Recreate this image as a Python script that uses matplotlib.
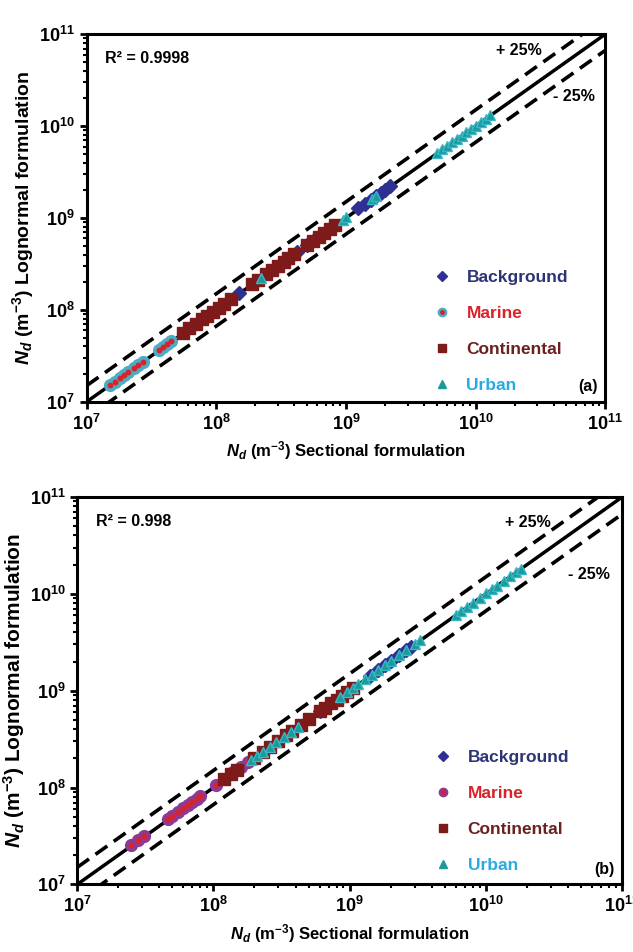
import matplotlib
matplotlib.use("Agg")
import matplotlib.pyplot as plt
from matplotlib.lines import Line2D
from matplotlib.ticker import LogLocator, LogFormatterMathtext, NullFormatter

plt.rcParams["font.family"] = ["Liberation Sans", "DejaVu Sans"]
plt.rcParams["font.weight"] = "bold"
plt.rcParams["mathtext.fontset"] = "custom"
plt.rcParams["mathtext.rm"] = "Liberation Sans:bold"
plt.rcParams["mathtext.bf"] = "Liberation Sans:bold"
plt.rcParams["mathtext.it"] = "Liberation Sans:bold:italic"

# ---- panel (a) data: sectional (x) vs lognormal (y) ----
a_bg_x = [1.5e8, 4.2e8, 5.0e8, 5.8e8, 6.5e8, 1.25e9, 1.4e9, 1.55e9, 1.7e9, 1.85e9, 2.0e9, 2.2e9]
a_bg_y = [1.52e8, 4.25e8, 5.05e8, 5.85e8, 6.6e8, 1.27e9, 1.42e9, 1.57e9, 1.72e9, 1.88e9, 2.02e9, 2.22e9]
a_mar_x = [1.5e7, 1.65e7, 1.8e7, 1.95e7, 2.1e7, 2.3e7, 2.5e7, 2.7e7, 3.6e7, 3.9e7, 4.2e7, 4.5e7]
a_mar_y = [1.52e7, 1.66e7, 1.82e7, 1.97e7, 2.12e7, 2.33e7, 2.52e7, 2.73e7, 3.65e7, 3.95e7, 4.25e7, 4.55e7]
a_con_x = [5.5e7, 6.2e7, 7.0e7, 7.8e7, 8.5e7, 9.5e7, 1.05e8, 1.15e8, 1.3e8, 1.9e8, 2.1e8, 2.4e8,
           2.7e8, 3.0e8, 3.3e8, 3.6e8, 4.0e8, 5.0e8, 5.6e8, 6.2e8, 6.8e8, 7.5e8, 8.3e8]
a_con_y = [5.6e7, 6.3e7, 7.1e7, 7.9e7, 8.6e7, 9.6e7, 1.06e8, 1.17e8, 1.32e8, 1.92e8, 2.13e8, 2.43e8,
           2.73e8, 3.04e8, 3.34e8, 3.65e8, 4.05e8, 5.05e8, 5.67e8, 6.27e8, 6.9e8, 7.6e8, 8.4e8]
a_urb_x = [2.2e8, 9.5e8, 1.0e9, 1.6e9, 1.7e9, 5.0e9, 5.5e9, 6.0e9, 6.6e9, 7.2e9, 7.8e9, 8.5e9,
           9.2e9, 1.0e10, 1.1e10, 1.2e10, 1.3e10]
a_urb_y = [2.25e8, 9.6e8, 1.02e9, 1.63e9, 1.73e9, 5.1e9, 5.6e9, 6.1e9, 6.7e9, 7.3e9, 7.9e9, 8.6e9,
           9.3e9, 1.01e10, 1.11e10, 1.21e10, 1.31e10]

# ---- panel (b) data ----
b_bg_x = [6.0e8, 1.4e9, 1.6e9, 1.8e9, 2.0e9, 2.3e9, 2.6e9, 2.8e9]
b_bg_y = [6.1e8, 1.43e9, 1.63e9, 1.83e9, 2.03e9, 2.33e9, 2.63e9, 2.84e9]
b_mar_x = [2.5e7, 2.8e7, 3.1e7, 4.6e7, 5.0e7, 5.5e7, 6.0e7, 6.5e7, 7.0e7, 7.6e7, 8.0e7,
           1.05e8, 1.4e8, 1.6e8, 1.8e8]
b_mar_y = [2.55e7, 2.85e7, 3.15e7, 4.7e7, 5.1e7, 5.6e7, 6.1e7, 6.6e7, 7.1e7, 7.7e7, 8.1e7,
           1.07e8, 1.43e8, 1.63e8, 1.83e8]
b_con_x = [1.2e8, 1.35e8, 1.5e8, 2.0e8, 2.3e8, 2.6e8, 3.0e8, 3.4e8, 3.8e8, 4.4e8, 5.0e8,
           6.0e8, 6.6e8, 7.3e8, 8.0e8, 8.8e8, 9.6e8, 1.05e9]
b_con_y = [1.22e8, 1.37e8, 1.52e8, 2.03e8, 2.34e8, 2.64e8, 3.05e8, 3.45e8, 3.86e8, 4.47e8, 5.07e8,
           6.1e8, 6.7e8, 7.4e8, 8.1e8, 8.9e8, 9.7e8, 1.06e9]
b_urb_x = [1.9e8, 2.1e8, 2.3e8, 2.6e8, 2.9e8, 3.3e8, 3.7e8, 4.2e8, 8.5e8, 9.5e8, 1.05e9, 1.15e9,
           1.3e9, 1.45e9, 1.6e9, 1.8e9, 2.0e9, 2.3e9, 2.6e9, 3.0e9, 3.3e9, 6.0e9, 6.6e9, 7.2e9,
           8.0e9, 9.0e9, 1.0e10, 1.1e10, 1.2e10, 1.35e10, 1.5e10, 1.65e10, 1.8e10]
b_urb_y = [1.92e8, 2.12e8, 2.32e8, 2.62e8, 2.92e8, 3.32e8, 3.72e8, 4.22e8, 8.6e8, 9.6e8, 1.06e9, 1.16e9,
           1.31e9, 1.46e9, 1.62e9, 1.82e9, 2.02e9, 2.32e9, 2.62e9, 3.02e9, 3.32e9, 6.05e9, 6.65e9, 7.25e9,
           8.05e9, 9.05e9, 1.01e10, 1.11e10, 1.21e10, 1.36e10, 1.51e10, 1.66e10, 1.81e10]

labels = ["Background", "Marine", "Continental", "Urban"]
label_colors = ["#2b3474", "#d8232a", "#6b2121", "#29abe2"]
band = [1.5, 1 / 1.5]   # +25% / -25% guide lines as drawn
lims = [1e7, 1e11]

c_bg = "#2e3192"
c_con = "#7f1a1a"
c_urb = "#1a9a9a"
c_urb_edge = "#3bb8c8"
c_red = "#d8232a"


def draw_panel(ax, bg, mar, con, urb, mar_col, r2, tag, leg_anchor, pm_pos, ylab_size):
    ax.plot(lims, lims, color="black", lw=2.5, zorder=1)
    for k in band:
        ax.plot(lims, [lims[0] * k, lims[1] * k], color="black", lw=2.6,
                dashes=(4, 2.2), zorder=1)
    ax.plot(bg[0], bg[1], ls="none", marker="D", ms=7.5, color=c_bg, zorder=2)
    ax.plot(mar[0], mar[1], ls="none", marker="o", ms=8.5, color=mar_col, zorder=3)
    ax.plot(mar[0], mar[1], ls="none", marker="o", ms=3.2, color=c_red, zorder=3.1)
    ax.plot(con[0], con[1], ls="none", marker="s", ms=8.5, color=c_con, zorder=4)
    ax.plot(urb[0], urb[1], ls="none", marker="^", ms=7.5, color=c_urb,
            mec=c_urb_edge, mew=1, zorder=5)

    ax.set_xscale("log")
    ax.set_yscale("log")
    ax.set_xlim(lims)
    ax.set_ylim(lims)
    for axis in (ax.xaxis, ax.yaxis):
        axis.set_major_locator(LogLocator(base=10, numticks=10))
        axis.set_major_formatter(LogFormatterMathtext())
        axis.set_minor_locator(LogLocator(base=10, subs=range(2, 10), numticks=20))
        axis.set_minor_formatter(NullFormatter())
    ax.tick_params(which="major", direction="out", length=5, width=2, labelsize=13)
    ax.tick_params(which="minor", direction="out", length=3, width=1.5)
    for s in ax.spines.values():
        s.set_linewidth(2.2)

    ax.set_xlabel(r"$N_d$ (m$^{-3}$) Sectional formulation", fontsize=12, fontweight="bold")
    ax.set_ylabel(r"$N_d$ (m$^{-3}$) Lognormal formulation", fontsize=ylab_size,
                  fontweight="bold", labelpad=2)

    ax.text(0.035, 0.955, r2, transform=ax.transAxes, fontsize=11.5, fontweight="bold",
            va="top", ha="left")
    ax.text(pm_pos[0][0], pm_pos[0][1], "+ 25%", transform=ax.transAxes, fontsize=11.5,
            fontweight="bold", ha="left", va="center")
    ax.text(pm_pos[1][0], pm_pos[1][1], "- 25%", transform=ax.transAxes, fontsize=11.5,
            fontweight="bold", ha="left", va="center")
    ax.text(0.985, 0.02, tag, transform=ax.transAxes, fontsize=11.5, fontweight="bold",
            ha="right", va="bottom")

    h_bg = Line2D([], [], ls="none", marker="D", ms=5, color=c_bg)
    h_mar = (Line2D([], [], ls="none", marker="o", ms=6, color=mar_col),
             Line2D([], [], ls="none", marker="o", ms=2.5, color=c_red))
    h_con = Line2D([], [], ls="none", marker="s", ms=6, color=c_con)
    h_urb = Line2D([], [], ls="none", marker="^", ms=6, color=c_urb)
    leg = ax.legend([h_bg, h_mar, h_con, h_urb], labels, loc="upper left",
                    bbox_to_anchor=leg_anchor, frameon=False,
                    labelspacing=1.2, handlelength=1.0, handletextpad=0.9,
                    borderpad=0, prop={"weight": "bold", "size": 12.5})
    for t, c in zip(leg.get_texts(), label_colors):
        t.set_color(c)


fig = plt.figure(figsize=(6.33, 9.52), dpi=100)
ax1 = fig.add_axes([0.137, 0.578, 0.819, 0.386])
ax2 = fig.add_axes([0.122, 0.071, 0.861, 0.407])

draw_panel(ax1, (a_bg_x, a_bg_y), (a_mar_x, a_mar_y), (a_con_x, a_con_y), (a_urb_x, a_urb_y),
           "#4bacc6", "R\u00b2 = 0.9998", "(a)", (0.652, 0.382),
           [(0.79, 0.955), (0.9, 0.83)], 14)
draw_panel(ax2, (b_bg_x, b_bg_y), (b_mar_x, b_mar_y), (b_con_x, b_con_y), (b_urb_x, b_urb_y),
           "#8b3a96", "R\u00b2 = 0.998", "(b)", (0.64, 0.37),
           [(0.785, 0.935), (0.9, 0.8)], 15)

fig.savefig("out.png", dpi=100)
